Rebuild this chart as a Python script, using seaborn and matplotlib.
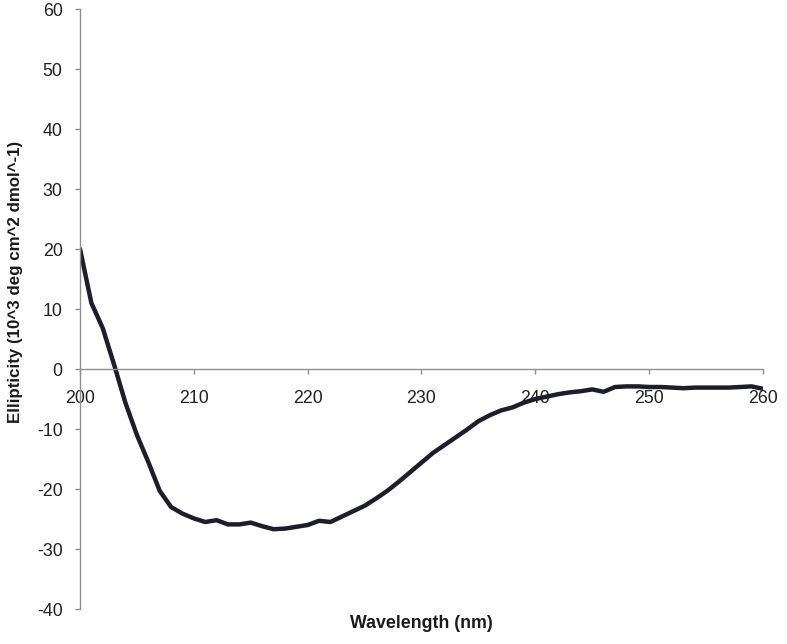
import matplotlib
matplotlib.use("Agg")
import matplotlib.pyplot as plt
import seaborn as sns
import pandas as pd

wavelength = list(range(200, 261))
ellipticity = [
    20.0, 11.0, 6.8, 0.7, -5.7, -11.0, -15.5, -20.3, -23.0, -24.1,
    -24.9, -25.5, -25.2, -25.9, -25.9, -25.6, -26.2, -26.7, -26.6, -26.3,
    -26.0, -25.3, -25.5, -24.6, -23.7, -22.8, -21.6, -20.3, -18.8, -17.2,
    -15.6, -14.0, -12.7, -11.4, -10.1, -8.7, -7.7, -6.9, -6.4, -5.6,
    -5.0, -4.6, -4.2, -3.9, -3.7, -3.4, -3.8, -3.0, -2.9, -2.9,
    -3.0, -3.0, -3.1, -3.2, -3.1, -3.1, -3.1, -3.1, -3.0, -2.9,
    -3.3,
]
x_ticks = [200, 210, 220, 230, 240, 250, 260]
y_ticks = [-40, -30, -20, -10, 0, 10, 20, 30, 40, 50, 60]

df = pd.DataFrame({"Wavelength": wavelength, "Ellipticity": ellipticity})

sns.set_style("white")
plt.rcParams["font.family"] = ["Liberation Sans", "DejaVu Sans"]
plt.rcParams["axes.unicode_minus"] = False

fig = plt.figure(figsize=(7.87, 6.44), dpi=100)
ax = fig.add_axes([80/787, 35/644, (763-80)/787, 600/644])

sns.lineplot(data=df, x="Wavelength", y="Ellipticity", ax=ax,
             color="#1e1d2a", linewidth=3.2, solid_joinstyle="round",
             solid_capstyle="round")

ax.set_xlim(200, 260)
ax.set_ylim(-40, 60)
ax.set_xticks(x_ticks)
ax.set_yticks(y_ticks)

spine_c = "#8f8f8f"
for s in ["top", "right"]:
    ax.spines[s].set_visible(False)
ax.spines["bottom"].set_position(("data", 0))
ax.spines["bottom"].set_color(spine_c)
ax.spines["left"].set_color(spine_c)
ax.spines["bottom"].set_linewidth(1.0)
ax.spines["left"].set_linewidth(1.0)

ax.tick_params(axis="x", direction="out", length=3.5, width=1.0, color=spine_c,
               pad=11.5, labelsize=12.8, labelcolor="#222222", bottom=True)
ax.tick_params(axis="y", direction="out", length=3.5, width=1.0, color=spine_c,
               pad=9, labelsize=12.8, labelcolor="#222222", left=True)

ax.set_xlabel("Wavelength (nm)", fontsize=12.8, fontweight="bold", color="#1a1a1a")
ax.xaxis.set_label_coords(0.5, -0.01)
ax.xaxis.label.set_va("top")
ax.set_ylabel("Ellipticity (10^3 deg cm^2 dmol^-1)", fontsize=12.2,
              fontweight="bold", color="#1a1a1a")
ax.yaxis.set_label_coords(-(80 - 16)/683, (609 - 282)/600)
ax.yaxis.label.set_va("center")

fig.savefig("out.png", dpi=100, facecolor="white")
